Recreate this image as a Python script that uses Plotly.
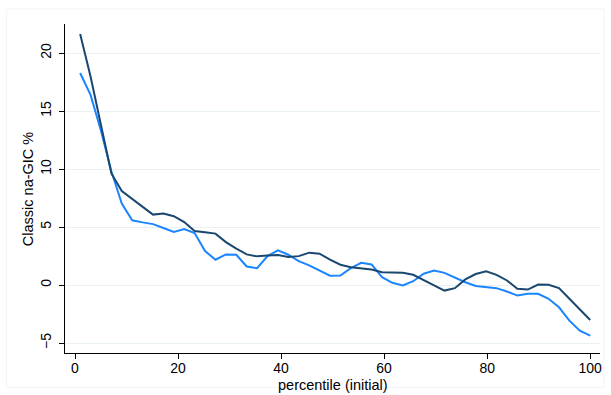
import plotly.graph_objects as go

percentile = [1.00, 3.02, 5.04, 7.06, 9.08, 11.10, 13.12, 15.14, 17.16, 19.18,
              21.20, 23.22, 25.24, 27.27, 29.29, 31.31, 33.33, 35.35, 37.37, 39.39,
              41.41, 43.43, 45.45, 47.47, 49.49, 51.51, 53.53, 55.55, 57.57, 59.59,
              61.61, 63.63, 65.65, 67.67, 69.69, 71.71, 73.73, 75.76, 77.78, 79.80,
              81.82, 83.84, 85.86, 87.88, 89.90, 91.92, 93.94, 95.96, 97.98, 100.00]

series_dark = [21.64, 17.98, 13.8, 9.62, 8.1, 7.4, 6.7, 6.07, 6.16, 5.93,
               5.43, 4.66, 4.54, 4.43, 3.70, 3.13, 2.64, 2.47, 2.55, 2.58,
               2.41, 2.49, 2.79, 2.70, 2.18, 1.75, 1.54, 1.45, 1.34, 1.11,
               1.05, 1.05, 0.88, 0.39, -0.04, -0.48, -0.27, 0.48, 0.95, 1.19,
               0.88, 0.39, -0.33, -0.39, 0.04, 0.02, -0.27, -1.19, -2.06, -3.01]

series_blue = [18.28, 16.39, 13.3, 9.8, 7.02, 5.58, 5.4, 5.25, 4.92, 4.57,
               4.83, 4.48, 2.93, 2.18, 2.64, 2.61, 1.60, 1.45, 2.5, 2.98,
               2.61, 2.06, 1.69, 1.25, 0.80, 0.82, 1.45, 1.92, 1.77, 0.67,
               0.19, -0.04, 0.33, 0.97, 1.25, 1.05, 0.62, 0.24, -0.08, -0.19,
               -0.27, -0.56, -0.91, -0.76, -0.76, -1.19, -1.92, -3.07, -3.94, -4.37]

x_ticks = [0, 20, 40, 60, 80, 100]
y_ticks = [-5, 0, 5, 10, 15, 20]
x_title = "percentile (initial)"
y_title = "Classic na-GIC %"

W, H = 611, 395
ML, MR, MT, MB = 65.3, 11, 24, 41.7
PW, PH = W - ML - MR, H - MT - MB

fig = go.Figure()
fig.add_trace(go.Scatter(x=percentile, y=series_blue, mode="lines",
                         line=dict(color="#1a85ff", width=2), showlegend=False))
fig.add_trace(go.Scatter(x=percentile, y=series_dark, mode="lines",
                         line=dict(color="#1a476f", width=2), showlegend=False))

tick_font = dict(family="Liberation Sans, Arial, sans-serif", size=14, color="#000000")
title_font = dict(family="Liberation Sans, Arial, sans-serif", size=14.5, color="#000000")

fig.update_layout(
    width=W, height=H,
    margin=dict(l=ML, r=MR, t=MT, b=MB, pad=0, autoexpand=False),
    paper_bgcolor="white", plot_bgcolor="white",
    font=tick_font,
    shapes=[dict(type="rect", xref="paper", yref="paper",
                 x0=-(ML - 7) / PW, x1=1 + 4 / PW, y0=-(MB - 7) / PH, y1=1 + 15 / PH,
                 line=dict(color="#f3f3f3", width=1), layer="below")],
    annotations=[
        dict(text=x_title, xref="paper", yref="paper",
             x=(332.7 - ML) / PW, y=-(385 - (MT + PH)) / PH,
             xanchor="center", yanchor="middle", showarrow=False, font=title_font),
        dict(text=y_title, xref="paper", yref="paper", textangle=-90,
             x=-(ML - 28) / PW, y=0.5,
             xanchor="center", yanchor="middle", showarrow=False, font=title_font),
    ],
)
fig.update_xaxes(
    range=[-1.94, 101.9], tickvals=x_ticks, showgrid=False, zeroline=False,
    showline=True, linecolor="black", linewidth=1, automargin=False,
    ticks="outside", ticklen=5, tickcolor="black", tickfont=tick_font,
    ticklabelstandoff=-3,
)
fig.update_yaxes(
    range=[-5.86, 22.5], tickvals=y_ticks, showgrid=True, gridcolor="#eaf1f3", gridwidth=1,
    zeroline=False, showline=True, linecolor="black", linewidth=1, automargin=False,
    ticks="outside", ticklen=5, tickcolor="black", tickangle=-90, tickfont=tick_font,
    ticklabelstandoff=2,
)

fig.write_html("out.html")
